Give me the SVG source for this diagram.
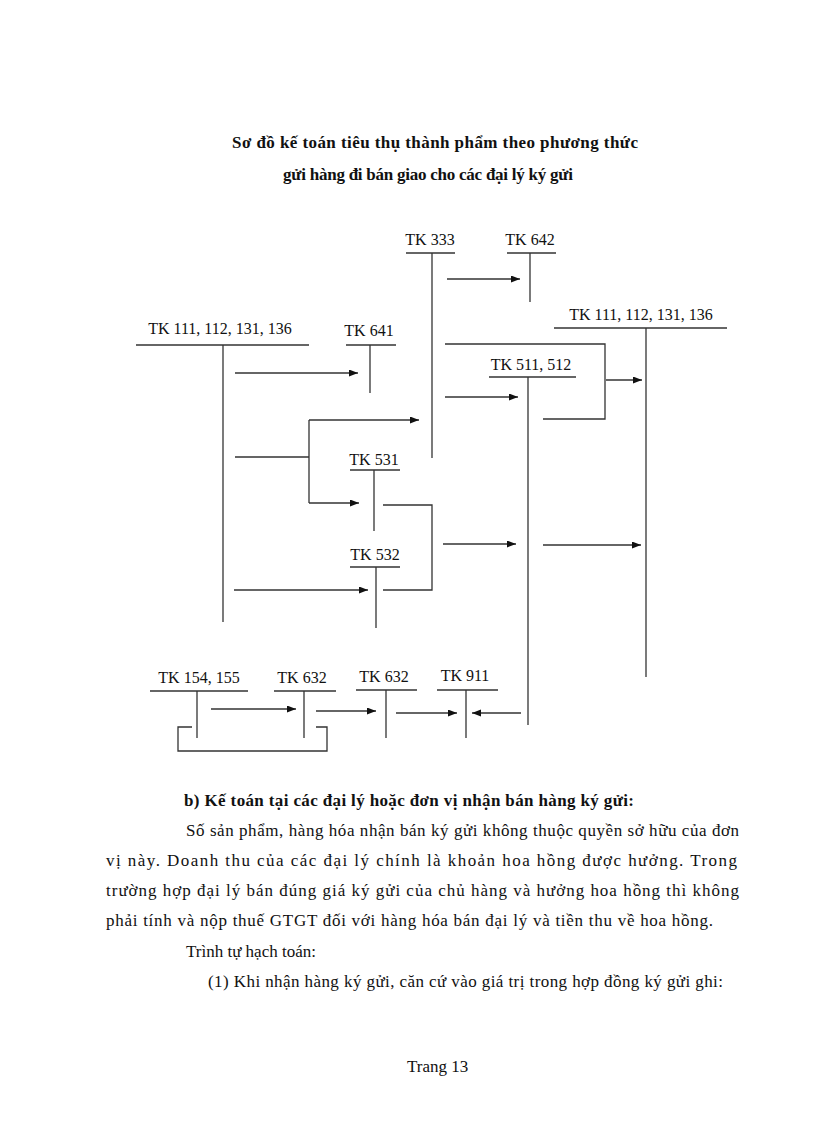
<svg xmlns="http://www.w3.org/2000/svg" width="816" height="1123" viewBox="0 0 816 1123">
<style>
.lbl{font-family:"Liberation Serif","Times New Roman",serif;font-size:16px;fill:#111;text-anchor:middle}
.body{font-family:"Liberation Serif","Times New Roman",serif;font-size:17px;fill:#111}
.bold{font-weight:bold}
.title{font-family:"Liberation Serif","Times New Roman",serif;font-size:17px;font-weight:bold;fill:#111}
.ln{stroke:#333;stroke-width:1.3;fill:none}
.ar{stroke:#333;stroke-width:1.3;fill:none;marker-end:url(#ah)}
</style>
<defs>
<marker id="ah" markerUnits="userSpaceOnUse" markerWidth="10" markerHeight="8" refX="9" refY="3.5" orient="auto">
<path d="M0,0 L9,3.5 L0,7 z" fill="#111"/>
</marker>
</defs>
<rect width="816" height="1123" fill="#fff"/>

<g id="title">
<text class="title" x="232" y="148" textLength="406" lengthAdjust="spacing">Sơ đồ kế toán tiêu thụ thành phẩm theo phương thức</text>
<text class="title" x="283" y="180" textLength="290" lengthAdjust="spacing">gửi hàng đi bán giao cho các đại lý ký gửi</text>
</g>

<g id="tk333">
<text class="lbl" x="430" y="245">TK 333</text>
<line class="ln" x1="406" y1="253" x2="455" y2="253"/>
<line class="ln" x1="432" y1="253" x2="432" y2="458"/>
</g>
<g id="tk642">
<text class="lbl" x="530" y="245">TK 642</text>
<line class="ln" x1="507" y1="253" x2="556" y2="253"/>
<line class="ln" x1="530" y1="253" x2="530" y2="302"/>
</g>
<g id="tk111a">
<text class="lbl" x="220" y="334">TK 111, 112, 131, 136</text>
<line class="ln" x1="136" y1="345" x2="309" y2="345"/>
<line class="ln" x1="223" y1="345" x2="223" y2="622"/>
</g>
<g id="tk641">
<text class="lbl" x="369" y="336">TK 641</text>
<line class="ln" x1="346" y1="345" x2="396" y2="345"/>
<line class="ln" x1="370" y1="345" x2="370" y2="393"/>
</g>
<g id="tk111b">
<text class="lbl" x="641" y="320">TK 111, 112, 131, 136</text>
<line class="ln" x1="554" y1="328" x2="727" y2="328"/>
<line class="ln" x1="646" y1="328" x2="646" y2="677"/>
</g>
<g id="tk511">
<text class="lbl" x="531" y="370">TK 511, 512</text>
<line class="ln" x1="489" y1="377" x2="576" y2="377"/>
<line class="ln" x1="528" y1="377" x2="528" y2="725"/>
</g>
<g id="tk531">
<text class="lbl" x="374" y="465">TK 531</text>
<line class="ln" x1="350" y1="470" x2="400" y2="470"/>
<line class="ln" x1="374" y1="470" x2="374" y2="531"/>
</g>
<g id="tk532">
<text class="lbl" x="375" y="560">TK 532</text>
<line class="ln" x1="350" y1="567" x2="400" y2="567"/>
<line class="ln" x1="376" y1="567" x2="376" y2="628"/>
</g>
<g id="tk154">
<text class="lbl" x="199" y="683">TK 154, 155</text>
<line class="ln" x1="150" y1="691" x2="248" y2="691"/>
<line class="ln" x1="197" y1="691" x2="197" y2="738"/>
</g>
<g id="tk632a">
<text class="lbl" x="302" y="683">TK 632</text>
<line class="ln" x1="274" y1="691" x2="336" y2="691"/>
<line class="ln" x1="304" y1="691" x2="304" y2="738"/>
</g>
<g id="tk632b">
<text class="lbl" x="384" y="682">TK 632</text>
<line class="ln" x1="356" y1="690" x2="417" y2="690"/>
<line class="ln" x1="386" y1="690" x2="386" y2="738"/>
</g>
<g id="tk911">
<text class="lbl" x="465" y="681">TK 911</text>
<line class="ln" x1="437" y1="690" x2="498" y2="690"/>
<line class="ln" x1="466" y1="690" x2="466" y2="738"/>
</g>

<g id="connectors">
<line class="ar" x1="447" y1="279" x2="520" y2="279"/>
<line class="ar" x1="235" y1="373" x2="358" y2="373"/>
<path class="ln" d="M235,457 H309 M309,420 V503"/>
<line class="ar" x1="309" y1="420" x2="419" y2="420"/>
<line class="ar" x1="309" y1="503" x2="359" y2="503"/>
<path class="ln" d="M445,344 H605 V419 H543"/>
<line class="ar" x1="606" y1="380" x2="642" y2="380"/>
<line class="ar" x1="445" y1="397" x2="518" y2="397"/>
<path class="ln" d="M383,505 H432 V590 H383"/>
<line class="ar" x1="443" y1="544" x2="516" y2="544"/>
<line class="ar" x1="543" y1="545" x2="641" y2="545"/>
<line class="ar" x1="234" y1="590" x2="368" y2="590"/>
<line class="ar" x1="211" y1="709" x2="296" y2="709"/>
<line class="ar" x1="316" y1="711" x2="376" y2="711"/>
<line class="ar" x1="396" y1="713" x2="457" y2="713"/>
<line class="ar" x1="521" y1="713" x2="472" y2="713"/>
<path class="ln" d="M192,727 H178 V751 H327 V727 H316"/>
</g>

<g id="text">
<text class="body bold" x="184" y="806" textLength="450" lengthAdjust="spacing">b) Kế toán tại các đại lý hoặc đơn vị nhận bán hàng ký gửi:</text>
<text class="body" x="186" y="836" textLength="553" lengthAdjust="spacing">Số sản phẩm, hàng hóa nhận bán ký gửi không thuộc quyền sở hữu của đơn</text>
<text class="body" x="106" y="866" textLength="631" lengthAdjust="spacing">vị này. Doanh thu của các đại lý chính là khoản hoa hồng được hưởng. Trong</text>
<text class="body" x="106" y="896" textLength="633" lengthAdjust="spacing">trường hợp đại lý bán đúng giá ký gửi của chủ hàng và hưởng hoa hồng thì không</text>
<text class="body" x="106" y="926" textLength="607" lengthAdjust="spacing">phải tính và nộp thuế GTGT  đối với hàng hóa bán đại lý và tiền thu về hoa hồng.</text>
<text class="body" x="186" y="957">Trình tự hạch toán:</text>
<text class="body" x="208" y="987" textLength="515" lengthAdjust="spacing">(1) Khi nhận hàng ký gửi, căn cứ vào giá trị trong hợp đồng ký gửi ghi:</text>
<text class="body" x="407" y="1072">Trang 13</text>
</g>
</svg>
